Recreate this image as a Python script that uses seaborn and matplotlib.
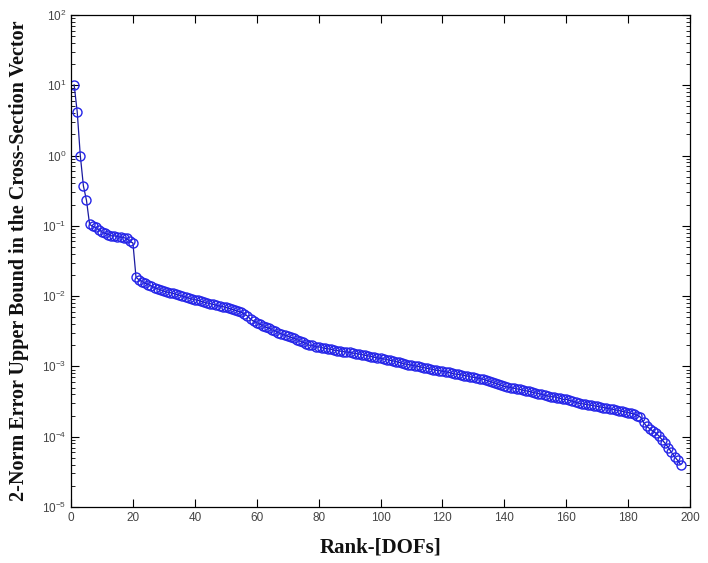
import numpy as np
import pandas as pd
import matplotlib
matplotlib.use('Agg')
import matplotlib.pyplot as plt
import seaborn as sns
from matplotlib.ticker import LogLocator, FixedLocator

# valores (rank 1..197)
erro_ini = [10.2, 4.2, 1.0, 0.37, 0.23, 0.105]
erro_bloco1 = [0.098, 0.095, 0.088, 0.082, 0.078, 0.075, 0.072, 0.072, 0.070, 0.069,
               0.068, 0.066, 0.060, 0.057]
erro_bloco2 = [0.0185, 0.0170, 0.0160, 0.0152, 0.0145, 0.0138, 0.0132, 0.0127, 0.0122, 0.0118,
               0.0114, 0.0112, 0.0109, 0.0106, 0.0103, 0.0100, 0.0097, 0.0094, 0.0091, 0.0089,
               0.0087, 0.0084, 0.0082, 0.0080, 0.0078, 0.0076, 0.0074, 0.0072, 0.0071, 0.0069,
               0.0067, 0.0065, 0.0063, 0.0061, 0.0059]
erro_bloco3 = [0.0056, 0.0052, 0.0047, 0.0044, 0.0042, 0.0040, 0.0038, 0.0036, 0.0035, 0.0033,
               0.0032, 0.0030, 0.0029, 0.0028, 0.0027, 0.0026, 0.0025, 0.0024, 0.0023, 0.0022,
               0.0021, 0.0020, 0.0020, 0.0019, 0.0019]
erro_bloco4 = [0.00185, 0.0018, 0.00178, 0.00175, 0.0017, 0.00168, 0.00165, 0.00162, 0.0016, 0.00158,
               0.00155, 0.00152, 0.0015, 0.00147, 0.00144, 0.00141, 0.00138, 0.00135, 0.00132, 0.0013,
               0.00128, 0.00125, 0.00122, 0.0012, 0.00117, 0.00114, 0.00111, 0.00108, 0.00106, 0.00104,
               0.00102, 0.001, 0.00098, 0.00096, 0.00094, 0.00092, 0.0009, 0.00088, 0.00087, 0.00085]
erro_bloco5 = [0.00084, 0.00082, 0.0008, 0.00078, 0.00077, 0.00076, 0.00074, 0.00073, 0.00071, 0.0007,
               0.00069, 0.00067, 0.00066, 0.00064, 0.00062, 0.0006, 0.00058, 0.00056, 0.00054, 0.00052,
               0.00051, 0.0005, 0.00049, 0.00048, 0.00047, 0.00046, 0.00045, 0.00044, 0.00043, 0.00042,
               0.00041, 0.0004, 0.00039, 0.00038, 0.00037, 0.00037, 0.00036, 0.00035, 0.00034, 0.00034]
erro_bloco6 = [0.00033, 0.00032, 0.00031, 0.0003, 0.000295, 0.00029, 0.000285, 0.00028, 0.000275, 0.00027,
               0.000265, 0.00026, 0.000255, 0.00025, 0.000245, 0.00024, 0.000235, 0.00023, 0.000225, 0.00022,
               0.000215, 0.00021, 0.0002, 0.00019]
erro_fim = [0.00016, 0.00014, 0.00013, 0.00012, 0.000112, 0.000102, 0.00009, 0.00008, 0.00007, 0.00006,
            0.000052, 0.000046, 0.00004]

erro = erro_ini + erro_bloco1 + erro_bloco2 + erro_bloco3 + erro_bloco4 + erro_bloco5 + erro_bloco6 + erro_fim
rank = list(range(1, len(erro) + 1))

df = pd.DataFrame({'rank': rank, 'erro': erro})

sns.set_style('ticks')
plt.rcParams['font.family'] = ['Liberation Sans', 'DejaVu Sans']

fig = plt.figure(figsize=(7.08, 5.63), dpi=100)
ax = fig.add_axes([0.1003, 0.0995, 0.8743, 0.874])

sns.lineplot(data=df, x='rank', y='erro', ax=ax, color='#1a1aa0', linewidth=0.9,
             marker='o', markersize=6.5, markerfacecolor='none', markeredgecolor='#2424e8',
             markeredgewidth=1.0)

ax.set_yscale('log')
ax.set_xlim(0, 200)
ax.set_ylim(1e-5, 1e2)
ax.set_xticks(range(0, 201, 20))
ax.yaxis.set_major_locator(FixedLocator([10.0 ** k for k in range(-5, 3)]))
ax.yaxis.set_minor_locator(LogLocator(base=10, subs=np.arange(2, 10)))

ax.tick_params(which='both', direction='in', top=True, right=True, colors='black',
               labelcolor='#444444', labelsize=8.5)
ax.tick_params(which='major', length=6, width=0.8)
ax.tick_params(which='minor', length=3, width=0.6)
for s in ax.spines.values():
    s.set_linewidth(0.9)
    s.set_color('black')

ax.set_xlabel('Rank-[DOFs]', fontfamily='Liberation Serif', fontweight='bold', fontsize=15,
              color='#111111')
ax.set_ylabel('2-Norm Error Upper Bound in the Cross-Section Vector', fontfamily='Liberation Serif',
              fontweight='bold', fontsize=14.5, color='#111111')
ax.xaxis.set_label_coords(0.5, -0.062)
ax.yaxis.set_label_coords(-0.068, 0.5)

plt.savefig('out.png', dpi=100)
